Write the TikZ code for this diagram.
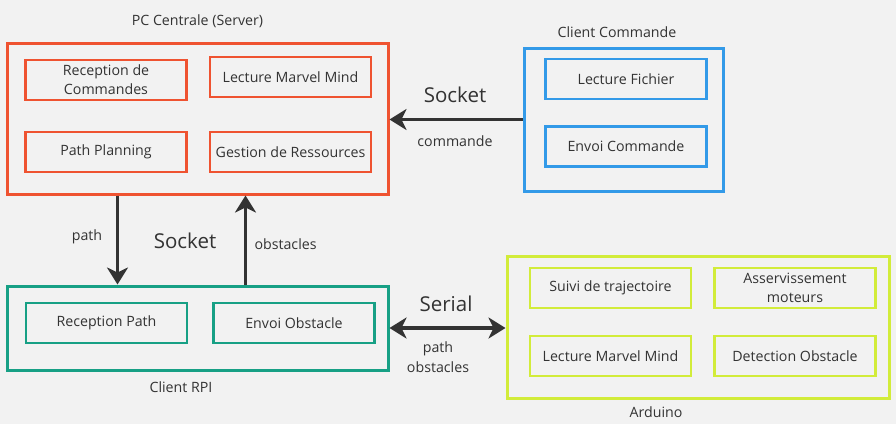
\documentclass[tikz,border=0pt]{standalone}
\usepackage{fontspec}
\setmainfont{Open Sans}
\usetikzlibrary{arrows.meta,calc}
\definecolor{bg}{HTML}{F2F2F2}
\definecolor{txt}{HTML}{333333}
\definecolor{cred}{HTML}{EF5331}
\definecolor{cblue}{HTML}{339AE8}
\definecolor{cteal}{HTML}{17A085}
\definecolor{cyel}{HTML}{D2EC3A}
\tikzset{
  outerbox/.style={draw=#1, line width=3pt, inner sep=0pt},
  innerbox/.style={draw=#1, line width=2.8pt, minimum width=161pt, minimum height=40pt, align=center, font=\fontsize{14.2}{19}\selectfont, text=txt, inner sep=0pt},
  lbl/.style={font=\fontsize{14.2}{20}\selectfont, text=txt, align=center},
  biglbl/.style={font=\fontsize{20.5}{22}\selectfont, text=txt},
  arr/.style={draw=txt, line width=3.2pt, -{Stealth[length=17pt,width=21pt,inset=5pt]}},
  darr/.style={draw=txt, line width=3.2pt, {Stealth[length=17pt,width=21pt,inset=5pt]}-{Stealth[length=17pt,width=21pt,inset=5pt]}}
}
\begin{document}
\begin{tikzpicture}[x=1pt,y=-1pt]
\fill[bg] (0,0) rectangle (896,424);
\useasboundingbox (0,0) rectangle (896,424);
% PC Centrale
\node[outerbox=cred, minimum width=381pt, minimum height=151pt] (pc) at (197.5,118.5) {};
\node[lbl] (pcl) at (197.5,21) {PC Centrale (Server)};
\node[innerbox=cred] (rc) at (106,80) {Reception de\\Commandes};
\node[innerbox=cred] (lmm) at (290.5,77) {Lecture Marvel Mind};
\node[innerbox=cred] (pp) at (106,152) {Path Planning};
\node[innerbox=cred] (gr) at (290.5,152) {Gestion de Ressources};
% Client Commande
\node[outerbox=cblue, minimum width=199pt, minimum height=143pt] (cc) at (623.5,119.5) {};
\node[lbl] (ccl) at (617,32) {Client Commande};
\node[innerbox=cblue] (lf) at (626,79) {Lecture Fichier};
\node[innerbox=cblue] (ec) at (626,146.5) {Envoi Commande};
% Client RPI
\node[outerbox=cteal, minimum width=381pt, minimum height=84pt] (rpi) at (197.5,328) {};
\node[lbl] (rpil) at (181,387) {Client RPI};
\node[innerbox=cteal] (rp) at (106.5,323) {Reception Path};
\node[innerbox=cteal] (eo) at (294,323) {Envoi Obstacle};
% Arduino
\node[outerbox=cyel, minimum width=382pt, minimum height=142pt] (ard) at (698,327) {};
\node[lbl] (ardl) at (656,412) {Arduino};
\node[innerbox=cyel] (st) at (610.5,288) {Suivi de trajectoire};
\node[innerbox=cyel] (am) at (795,288) {Asservissement\\moteurs};
\node[innerbox=cyel] (lmm2) at (610.5,356) {Lecture Marvel Mind};
\node[innerbox=cyel] (dob) at (795,356) {Detection Obstacle};
% Connectors
\draw[arr] (cc.west) -- (cc.west -| pc.east);
\node[biglbl] (s1) at (455,95) {Socket};
\node[lbl] (cmd) at (455,141) {commande};
\coordinate (pdtop) at ([xshift=112pt]pc.south west);
\coordinate (pdbot) at ([xshift=112pt]rpi.north west);
\draw[arr] (pdtop) -- (pdbot);
\coordinate (uptop) at ([xshift=240pt]pc.south west);
\coordinate (upbot) at ([xshift=240pt]rpi.north west);
\draw[arr] (upbot) -- (uptop);
\node[lbl] (pathl) at (87,237) {path};
\node[biglbl] (s2) at (185,241) {Socket};
\node[lbl, anchor=west] (obsl) at (251,244) {obstacles};
\draw[darr] (rpi.east) -- (rpi.east -| ard.west);
\node[biglbl] (ser) at (446,304) {Serial};
\node[lbl] (po) at (438,357) {path\\obstacles};
\end{tikzpicture}
\end{document}
